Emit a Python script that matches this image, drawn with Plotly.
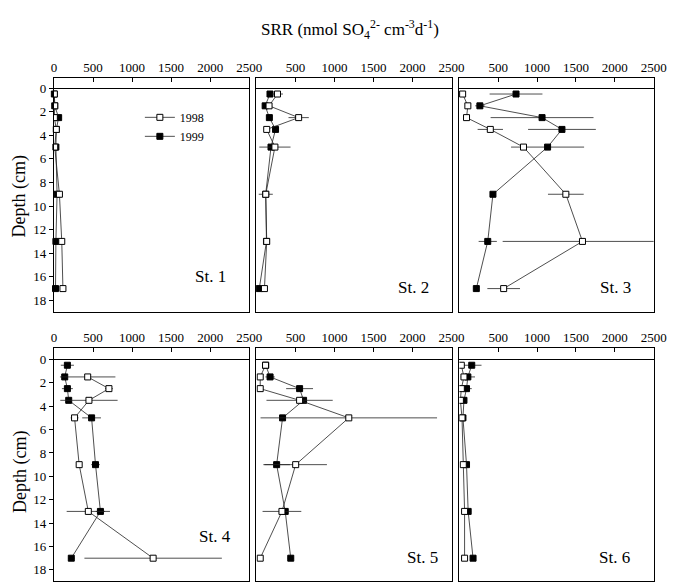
import plotly.graph_objects as go

# ---------------- data ----------------
depth = [0.5, 1.5, 2.5, 3.5, 5, 9, 13, 17]

st1_1998 = [5, 10, 5, 30, 10, 70, 100, 115]
st1_1999 = [5, 10, 60, 30, 25, 40, 25, 20]
st1_err_1998 = [0, 0, 0, 0, 0, 0, 0, 0]
st1_err_1999 = [0, 0, 0, 0, 0, 0, 0, 0]

st2_1998 = [271, 163, 542, 133, 238, 121, 133, 104]
st2_1999 = [175, 113, 167, 246, 188, 120, 130, 38]
st2_err_1998 = [70, 0, 130, 0, 200, 90, 0, 0]
st2_err_1999 = [0, 0, 0, 0, 0, 0, 0, 0]

st3_1998 = [42, 109, 92, 398, 825, 1370, 1584, 570]
st3_1999 = [729, 264, 1064, 1320, 1135, 432, 365, 218]
st3_err_1998 = [0, 0, 0, 163, 0, 230, 1027, 210]
st3_err_1999 = [340, 60, 662, 436, 470, 0, 117, 0]

st4_1998 = [None, 432, 704, 448, 264, 323, 440, 1270]
st4_1999 = [172, 138, 172, 189, 482, 532, 595, 222]
st4_err_1998 = [0, 355, 50, 367, 50, 0, 277, 880]
st4_err_1999 = [84, 40, 70, 0, 120, 55, 60, 40]

st5_1998 = [118, 50, 50, 554, 1184, 504, 328, 50]
st5_1999 = [120, 176, 554, 605, 336, 260, 370, 441]
st5_err_1998 = [0, 0, 0, 424, 1130, 400, 248, 0]
st5_err_1999 = [0, 60, 172, 0, 0, 170, 0, 40]

st6_1998 = [25, 59, 25, 13, 34, 50, 67, 67]
st6_1999 = [159, 109, 92, 59, 46, 92, 113, 176]
st6_err_1998 = [0, 0, 0, 0, 0, 0, 0, 0]
st6_err_1999 = [126, 92, 67, 0, 0, 17, 38, 0]

stations = ["St. 1", "St. 2", "St. 3", "St. 4", "St. 5", "St. 6"]
x_ticks_first = [0, 500, 1000, 1500, 2000, 2500]
x_ticks_other = [500, 1000, 1500, 2000, 2500]
y_ticks = [0, 2, 4, 6, 8, 10, 12, 14, 16, 18]

series = [
    (st1_1998, st1_err_1998, st1_1999, st1_err_1999),
    (st2_1998, st2_err_1998, st2_1999, st2_err_1999),
    (st3_1998, st3_err_1998, st3_1999, st3_err_1999),
    (st4_1998, st4_err_1998, st4_1999, st4_err_1999),
    (st5_1998, st5_err_1998, st5_1999, st5_err_1999),
    (st6_1998, st6_err_1998, st6_1999, st6_err_1999),
]

# ---------------- layout geometry ----------------
# the page body has an 8px margin, so the figure is drawn 8px in from the corner
OFF = 8
W, H = 681 - OFF, 582 - OFF
FONT = "Liberation Serif, Times New Roman, serif"


def px_x(v):
    return (v - OFF) / W


def px_y(v):
    return 1 - (v - OFF) / H


col_px = [(52, 252), (259.3, 459.3), (467.3, 666.3)]
row_px = [(78, 312.7), (348.3, 582)]
row_range = [[19.0, -0.87], [18.95, -1.0]]
label_pos = [(212, 277), (420, 288), (627, 288), (217, 537), (430, 558), (626, 558)]

fig = go.Figure()
LINE = dict(color="#222222", width=0.8)

for i, (v98, e98, v99, e99) in enumerate(series):
    n = i + 1
    xa = "x" if n == 1 else f"x{n}"
    ya = "y" if n == 1 else f"y{n}"
    fig.add_trace(go.Scatter(
        x=v99, y=depth, xaxis=xa, yaxis=ya, mode="lines+markers",
        name="1999", legendrank=2, showlegend=(n == 1),
        line=LINE, connectgaps=True,
        marker=dict(symbol="square", size=6, color="black",
                    line=dict(color="black", width=1)),
        error_x=dict(type="data", array=e99, symmetric=True, width=0,
                     thickness=0.8, color="#222222"),
        cliponaxis=False,
    ))
    fig.add_trace(go.Scatter(
        x=v98, y=depth, xaxis=xa, yaxis=ya, mode="lines+markers",
        name="1998", legendrank=1, showlegend=(n == 1),
        line=LINE, connectgaps=False,
        marker=dict(symbol="square", size=6, color="white",
                    line=dict(color="black", width=1)),
        error_x=dict(type="data", array=e98, symmetric=True, width=0,
                     thickness=0.8, color="#222222"),
        cliponaxis=(n != 3),
    ))

layout = dict(
    width=W, height=H, margin=dict(l=0, r=0, t=0, b=0),
    paper_bgcolor="white", plot_bgcolor="white",
    font=dict(family=FONT, size=13, color="black"),
    showlegend=True,
    legend=dict(x=px_x(140), y=px_y(103), xanchor="left", yanchor="top",
                bgcolor="rgba(0,0,0,0)", font=dict(size=12, family=FONT),
                tracegroupgap=0, itemwidth=30),
)

for i in range(6):
    n = i + 1
    r, c = divmod(i, 3)
    x0, x1 = col_px[c]
    y0, y1 = row_px[r]
    xk = "xaxis" if n == 1 else f"xaxis{n}"
    yk = "yaxis" if n == 1 else f"yaxis{n}"
    ya = "y" if n == 1 else f"y{n}"
    xa = "x" if n == 1 else f"x{n}"
    layout[xk] = dict(
        domain=[px_x(x0), min(1.0, px_x(x1))], anchor=ya, side="top", range=[0, 2500],
        tickvals=x_ticks_first if c == 0 else x_ticks_other,
        ticks="inside", ticklen=4, tickcolor="black",
        showline=True, linecolor="black", linewidth=1, mirror=True,
        showgrid=False, zeroline=False,
        tickfont=dict(size=13, family=FONT),
    )
    layout[yk] = dict(
        domain=[max(0.0, px_y(y1)), px_y(y0)], anchor=xa, range=row_range[r],
        tickvals=y_ticks, showticklabels=(c == 0),
        ticks="outside" if c == 0 else "", ticklen=4, tickcolor="black",
        showline=True, linecolor="black", linewidth=1, mirror=True,
        showgrid=False, zeroline=True, zerolinecolor="black", zerolinewidth=1,
        tickfont=dict(size=13, family=FONT),
    )

fig.update_layout(**layout)

C = dict(xanchor="center", yanchor="middle", xref="paper", yref="paper", showarrow=False)
annotations = [
    dict(text="SRR (nmol SO<sub>4</sub><sup>2-</sup> cm<sup>-3</sup>d<sup>-1</sup>)",
         x=px_x(355), y=px_y(30), font=dict(size=17, family=FONT), **C),
    dict(text="Depth (cm)", x=px_x(17), y=px_y(197), textangle=-90,
         font=dict(size=18, family=FONT), **C),
    dict(text="Depth (cm)", x=px_x(17), y=px_y(473), textangle=-90,
         font=dict(size=18, family=FONT), **C),
]
for name, (px, py) in zip(stations, label_pos):
    annotations.append(dict(text=name, x=px_x(px), y=px_y(py),
                            font=dict(size=17, family=FONT), **C))
fig.update_layout(annotations=annotations)

fig.write_html("out.html")
